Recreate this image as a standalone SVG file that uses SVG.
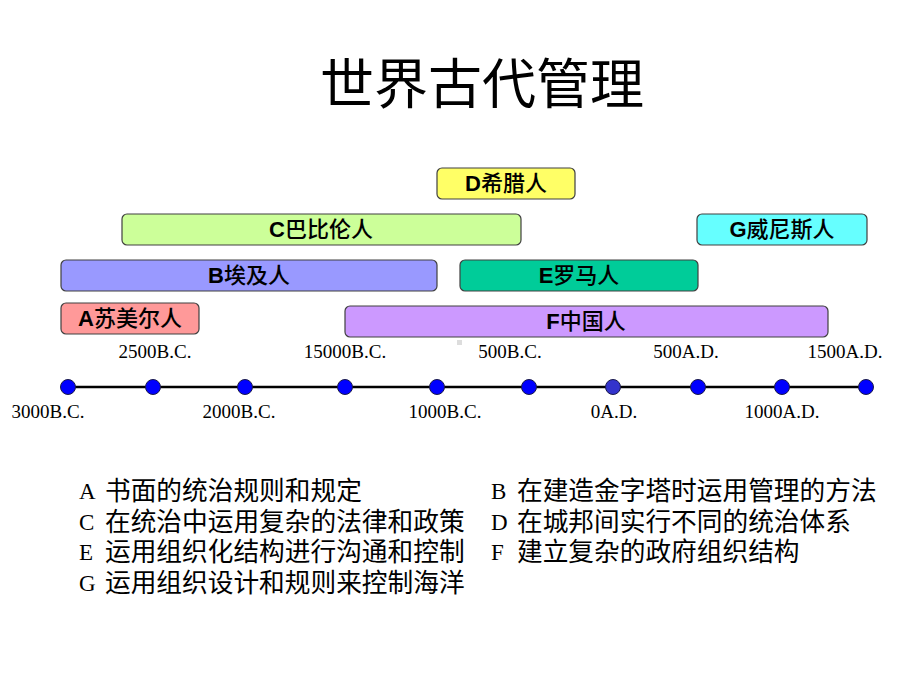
<svg xmlns="http://www.w3.org/2000/svg" width="920" height="690" viewBox="0 0 920 690">
<style>
.title{font-family:"Noto Sans CJK SC","Noto Sans CJK JP",sans-serif;font-size:54px;fill:#000}
.box{stroke:#404040;stroke-width:1.2}
.bl{font-family:"Liberation Sans","Noto Sans CJK SC",sans-serif;font-size:22px;font-weight:bold;fill:#000;text-anchor:middle}
.bl tspan.c{font-family:"Noto Sans CJK SC",sans-serif;font-weight:500}
.yr{font-family:"Liberation Serif",serif;font-size:19px;fill:#000;text-anchor:middle}
.dot{fill:#0000FF;stroke:#1a1a4a;stroke-width:1}
.lk{font-family:"Liberation Serif",serif;font-size:23px;fill:#000}
.lt{font-family:"Noto Sans CJK SC",sans-serif;font-size:25.7px;fill:#000}
</style>
<rect width="920" height="690" fill="#fff"/>
<text class="title" x="482" y="104" text-anchor="middle">世界古代管理</text>

<g id="nodeD"><rect class="box" x="437" y="168" width="138" height="31" rx="5" fill="#FFFF66"/><text class="bl" x="506" y="191">D<tspan class="c">希腊人</tspan></text></g>
<g id="nodeC"><rect class="box" x="122" y="214" width="399" height="31" rx="5" fill="#CCFF99"/><text class="bl" x="321" y="237">C<tspan class="c">巴比伦人</tspan></text></g>
<g id="nodeG"><rect class="box" x="697" y="214" width="170" height="31" rx="5" fill="#66FFFF"/><text class="bl" x="782" y="237">G<tspan class="c">威尼斯人</tspan></text></g>
<g id="nodeB"><rect class="box" x="61" y="260" width="376" height="31" rx="5" fill="#9999FF"/><text class="bl" x="249" y="283">B<tspan class="c">埃及人</tspan></text></g>
<g id="nodeE"><rect class="box" x="460" y="260" width="238" height="31" rx="5" fill="#00CC99"/><text class="bl" x="579" y="283">E<tspan class="c">罗马人</tspan></text></g>
<g id="nodeA"><rect class="box" x="61" y="303" width="138" height="31" rx="5" fill="#FF9999"/><text class="bl" x="130" y="326">A<tspan class="c">苏美尔人</tspan></text></g>
<g id="nodeF"><rect class="box" x="345" y="306" width="483" height="31" rx="5" fill="#CC99FF"/><text class="bl" x="586" y="329">F<tspan class="c">中国人</tspan></text></g>

<rect x="457" y="340" width="5" height="5" fill="#dddddd"/>

<g id="connectors">
<line x1="68" y1="387" x2="866" y2="387" stroke="#000" stroke-width="2.5"/>
</g>
<g id="timeline">
<circle class="dot" cx="68" cy="387" r="7.5"/>
<circle class="dot" cx="153" cy="387" r="7.5"/>
<circle class="dot" cx="245" cy="387" r="7.5"/>
<circle class="dot" cx="345" cy="387" r="7.5"/>
<circle class="dot" cx="437" cy="387" r="7.5"/>
<circle class="dot" cx="529" cy="387" r="7.5"/>
<circle class="dot" cx="613" cy="387" r="7.5" style="fill:#3333CC"/>
<circle class="dot" cx="698" cy="387" r="7.5"/>
<circle class="dot" cx="782" cy="387" r="7.5"/>
<circle class="dot" cx="866" cy="387" r="7.5"/>
<text class="yr" x="155" y="358">2500B.C.</text>
<text class="yr" x="345" y="358">15000B.C.</text>
<text class="yr" x="510" y="358">500B.C.</text>
<text class="yr" x="686" y="358">500A.D.</text>
<text class="yr" x="845" y="358">1500A.D.</text>
<text class="yr" x="48" y="418">3000B.C.</text>
<text class="yr" x="239" y="418">2000B.C.</text>
<text class="yr" x="445" y="418">1000B.C.</text>
<text class="yr" x="614" y="418">0A.D.</text>
<text class="yr" x="782" y="418">1000A.D.</text>
</g>

<g id="legend">
<text class="lk" x="79" y="499">A</text><text class="lt" x="105" y="500">书面的统治规则和规定</text>
<text class="lk" x="79" y="530">C</text><text class="lt" x="105" y="531">在统治中运用复杂的法律和政策</text>
<text class="lk" x="79" y="560">E</text><text class="lt" x="105" y="561">运用组织化结构进行沟通和控制</text>
<text class="lk" x="79" y="591">G</text><text class="lt" x="105" y="592">运用组织设计和规则来控制海洋</text>
<text class="lk" x="491" y="499">B</text><text class="lt" x="517" y="500">在建造金字塔时运用管理的方法</text>
<text class="lk" x="491" y="530">D</text><text class="lt" x="517" y="531">在城邦间实行不同的统治体系</text>
<text class="lk" x="491" y="560">F</text><text class="lt" x="517" y="561">建立复杂的政府组织结构</text>
</g>
</svg>
